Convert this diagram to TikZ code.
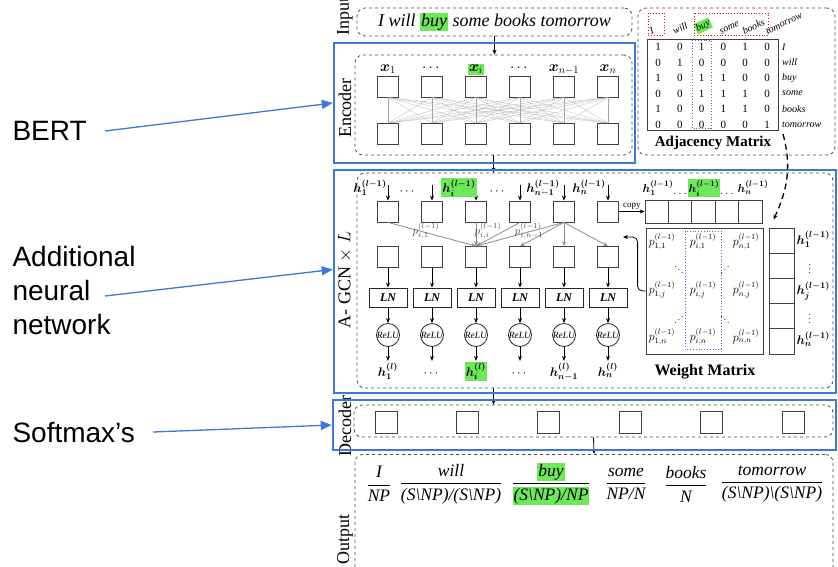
\RequirePackage{fix-cm}
\documentclass[tikz,border=0pt]{standalone}
\usepackage{amsmath}
\usepackage{bm}
\usepackage{fontspec}
\setmainfont{Liberation Serif}
\newfontfamily\notefont{Liberation Sans}
\usepackage{graphicx}
\usetikzlibrary{positioning}
\usetikzlibrary{arrows,arrows.meta,shapes}
\usetikzlibrary{calc}
\definecolor{partblue}{RGB}{60,120,216}
\definecolor{hlgreen}{RGB}{108,232,88}
\definecolor{dotblue}{RGB}{70,110,200}
\newcommand{\fsz}[1]{\fontsize{#1}{#1}\selectfont}
\newcommand{\hlg}[1]{{\setlength{\fboxsep}{1pt}\colorbox{hlgreen}{#1}}}
\newcommand{\ccg}[2]{$\dfrac{\text{\itshape #1}}{\text{\itshape #2}}$}
\tikzstyle{cell}=[rectangle,draw=black!75,thick,minimum size=21pt,inner sep=0pt]
\tikzstyle{vcell}=[rectangle,draw=black!75,thick,minimum width=23.4pt,minimum height=23pt,inner sep=0pt]
\tikzstyle{hcell}=[rectangle,draw=black!75,thick,minimum width=25pt,minimum height=25.2pt,inner sep=0pt]
\tikzstyle{lnbox}=[rectangle,draw=black!85,thick,minimum width=38pt,minimum height=19pt,inner sep=0pt,font=\fsz{12}\bfseries\itshape]
\tikzstyle{relu}=[circle,draw=black!85,thick,minimum size=23pt,inner sep=0pt,font=\fsz{9.5}\itshape]
\tikzstyle{group}=[draw=black!70,dashed,thick,rounded corners=8pt]
\tikzstyle{part}=[draw=partblue,line width=2.5pt]
\tikzstyle{link}=[draw,thick,-{Stealth[length=5pt,width=4pt]}]
\tikzstyle{pedge}=[draw,black!45,thick,-{Stealth[length=5pt,width=4pt]}]
\tikzstyle{pweight}=[font=\fsz{11},text=black!70,inner sep=1pt]
\tikzstyle{entry}=[font=\fsz{11},inner sep=1pt]
\tikzstyle{pentry}=[font=\fsz{12},inner sep=1pt]
\tikzstyle{hlabel}=[font=\fsz{12.5},inner sep=1pt,text height=10pt,text depth=3pt]
\tikzstyle{sidelabel}=[rotate=90,font=\fsz{18}]
\tikzstyle{callout}=[draw=partblue,line width=1.3pt,-{Triangle[length=11pt,width=9pt]}]

\begin{document}
\begin{tikzpicture}[x=1pt,y=-1pt]
    \useasboundingbox (0,0) rectangle (838,566);

    % Input sentence and side titles
    \node[group, minimum width=275pt, minimum height=28pt, font=\fsz{18}\itshape] (input) at (494.5,22) {I will \hlg{buy} some books tomorrow};
    \foreach \pos/\txt in {{(345,16)/Input}, {(345,108)/Encoder}, {(345,280)/A- GCN $\times$ $L$}, {(345,426)/Decoder}, {(345,539)/Output}}
        \node[sidelabel] at \pos {\txt};

    % Encoder: two rows of cells, fully connected
    \node[group, minimum width=277pt, minimum height=100pt] (encbox) at (493.5,105) {};
    \foreach \i in {1,...,6} {
        \node[cell] (etop\i) at ({388+44*(\i-1)},86.5) {};
        \node[cell] (ebot\i) at ({388+44*(\i-1)},134) {};
    }
    \foreach \a in {1,...,6}
        \foreach \b in {1,...,6}
            \draw[black!35, very thin] (etop\a.south) -- (ebot\b.north);
    \foreach \i/\txt in {1/$\bm{x}_1$, 2/$\cdots$, 3/\hlg{$\bm{x}_i$}, 4/$\cdots$, 5/$\bm{x}_{n-1}$, 6/$\bm{x}_n$}
        \node[hlabel, font=\fsz{15}, above=0pt of etop\i] {\txt};

    % Adjacency matrix
    \node[group, minimum width=197pt, minimum height=147pt] (adjbox) at (736.5,81.5) {};
    \node[draw=black!75, thick, minimum width=131pt, minimum height=91pt] (adjmat) at (712.5,84.5) {};
    \foreach \vals [count=\r from 0] in {{1,0,1,0,1,0},{0,1,0,0,0,0},{1,0,1,1,0,0},{0,0,1,1,1,0},{1,0,0,1,1,0},{0,0,0,0,0,1}}
        \foreach \v [count=\c from 0] in \vals
            \node[entry] at ({658+21.8*\c},{47+15.5*\r}) {\v};
    \foreach \word [count=\r from 0] in {I,will,buy,some,books,tomorrow}
        \node[anchor=west, font=\fsz{10}\itshape, inner sep=1pt] at (781,{47+15.5*\r}) {\word};
    \foreach \word [count=\c from 0] in {I,will,\hlg{buy},some,books,tomorrow}
        \node[rotate=25, anchor=south west, font=\fsz{10}\itshape, inner sep=1pt] at ({651+23.2*\c},36) {\word};
    \draw[red, dotted, thick] (648,13) rectangle (664,35);
    \draw[red, dotted, thick] (694,13) rectangle (768,35);
    \draw[dotblue, dotted, thick] (692,40) rectangle (711,128);
    \node[font=\fsz{15}\bfseries] (adjtitle) at (713,143) {Adjacency Matrix};
    \coordinate (adjtail) at (783,134);

    % A-GCN layer
    \node[group, minimum width=476pt, minimum height=215pt] (gcnbox) at (595,280.5) {};
    \foreach \i in {1,...,6} {
        \node[cell] (gtop\i) at ({388+44*(\i-1)},211.5) {};
        \node[cell] (gmid\i) at ({388+44*(\i-1)},257) {};
        \node[lnbox] (ln\i) at ({388+44*(\i-1)},297.5) {LN};
        \node[relu] (relu\i) at ({388+44*(\i-1)},335) {ReLU};
        \coordinate (gin\i) at ([yshift=16pt]gtop\i.north);
        \coordinate (hend\i) at ([yshift=-14pt]relu\i.south);
        \draw[link] (gin\i) -- (gtop\i);
        \draw[link] (gmid\i) -- (ln\i);
        \draw[link] (ln\i) -- (relu\i);
        \draw[link] (relu\i) -- (hend\i);
    }
    \foreach \pos/\txt in {{(370,189)/$\bm{h_1^{(l-1)}}$}, {(408,191)/$\cdots$}, {(459,189)/\hlg{$\bm{h_i^{(l-1)}}$}}, {(498,191)/$\cdots$}, {(543,189)/$\bm{h_{n-1}^{(l-1)}}$}, {(589,189)/$\bm{h_n^{(l-1)}}$}}
        \node[hlabel] at \pos {\txt};
    \foreach \i/\txt in {1/$\bm{h_1^{(l)}}$, 2/$\cdots$, 3/\hlg{$\bm{h_i^{(l)}}$}, 4/$\cdots$, 5/$\bm{h_{n-1}^{(l)}}$, 6/$\bm{h_n^{(l)}}$}
        \node[hlabel, below=4pt of hend\i] {\txt};

    % weighted edges into node i
    \foreach \source/\dest in {gtop1/gmid3, gtop3/gmid3, gtop4/gmid3, gtop5/gmid3, gtop5/gmid4, gtop5/gmid5, gtop5/gmid6}
        \path[pedge] (\source.south) -- (\dest.north);
    \foreach \pos/\txt in {{(426,231)/$p_{i,1}^{(l-1)}$}, {(488,231)/$p_{i,i}^{(l-1)}$}, {(529,231)/$p_{i,n-1}^{(l-1)}$}}
        \node[pweight] at \pos {\txt};

    % copy of the previous layer
    \foreach \i in {1,...,5}
        \node[vcell] (copy\i) at ({656.7+23.4*(\i-1)},211.5) {};
    \draw[link] (gtop6) -- node[above, font=\fsz{9}, inner sep=2pt] {copy} (copy1);
    \foreach \pos/\txt in {{(658,189)/$\bm{h_1^{(l-1)}}$}, {(681,191)/$\dots$}, {(704,189)/\hlg{$\bm{h_i^{(l-1)}}$}}, {(728,191)/$\dots$}, {(753,189)/$\bm{h_n^{(l-1)}}$}}
        \node[hlabel, font=\fsz{11.5}] at \pos {\txt};

    % Weight matrix
    \node[draw=black!75, thick, minimum width=117pt, minimum height=126pt] (wmat) at (704.5,291) {};
    \draw[dotblue, dotted, thick] (685,231) rectangle (721,349);
    \foreach \pos/\txt in {{(662,242)/$p_{1,1}^{(l-1)}$}, {(703,242)/$p_{i,1}^{(l-1)}$}, {(746,242)/$p_{n,1}^{(l-1)}$},
                           {(662,290)/$p_{1,j}^{(l-1)}$}, {(703,290)/$p_{i,j}^{(l-1)}$}, {(746,290)/$p_{n,j}^{(l-1)}$},
                           {(662,337)/$p_{1,n}^{(l-1)}$}, {(703,337)/$p_{i,n}^{(l-1)}$}, {(746,337)/$p_{n,n}^{(l-1)}$}}
        \node[pentry] at \pos {\txt};
    \foreach \pos/\txt in {{(679,267)/$\ddots$}, {(725,267)/\reflectbox{$\ddots$}}, {(679,317)/\reflectbox{$\ddots$}}, {(725,317)/$\ddots$}}
        \node[entry, font=\fsz{9}] at \pos {\txt};
    \coordinate (wback) at (623,237);
    \draw[link, rounded corners=5pt] (wmat.west) -- ++(-8,0) |- (wback);
    \node[font=\fsz{16}\bfseries] (wtitle) at (705,372) {Weight Matrix};

    % hidden states column
    \foreach \i in {1,...,5}
        \node[hcell] (hv\i) at (781.5,{240.6+25.2*(\i-1)}) {};
    \foreach \i/\txt in {1/$\bm{h_1^{(l-1)}}$, 3/$\bm{h_j^{(l-1)}}$, 5/$\bm{h_n^{(l-1)}}$}
        \node[hlabel, right=1pt of hv\i] {\txt};
    \foreach \i in {2,4}
        \node[font=\fsz{9}, inner sep=0pt, right=14pt of hv\i] {$\vdots$};
    \draw[link, dashed, line width=1.3pt, dash pattern=on 6pt off 4pt] (adjtail) to[out=-75,in=65] ([xshift=-8pt,yshift=8pt]hv1.north);

    % Decoder
    \node[group, minimum width=479pt, minimum height=32pt] (decbox) at (593.5,421) {};
    \foreach \i in {1,...,6}
        \node[cell, minimum size=22pt] (dec\i) at ({386+81.4*(\i-1)},422) {};

    % Output supertags
    \node[group, minimum width=478pt, minimum height=170pt, anchor=north] (outbox) at (594,454) {};
    \foreach \pos/\num/\den in {{(379,484)/I/NP}, {(451,484)/will/{(S\textbackslash NP)/(S\textbackslash NP)}},
                                {(551,484)/\hlg{buy}/\hlg{(S\textbackslash NP)/NP}}, {(626,484)/some/{NP/N}},
                                {(686,484)/books/N}, {(772,484)/tomorrow/{(S\textbackslash NP)\textbackslash(S\textbackslash NP)}}}
        \node[font=\fsz{17.5}, inner sep=0pt] at \pos {\ccg{\num}{\den}};

    % flow between stages
    \draw[link] (input.south) -- (input.south |- encbox.north);
    \draw[link] (encbox.south) -- (encbox.south |- gcnbox.north);
    \draw[link] (encbox.south |- gcnbox.south) -- (encbox.south |- decbox.north);
    \draw[link] (decbox.south) -- (outbox.north);

    % Blue parts and their callouts
    \node[part, minimum width=301pt, minimum height=120pt] (bertpart) at (484.5,103) {};
    \node[part, minimum width=502pt, minimum height=223pt] (gcnpart) at (585,281.5) {};
    \node[part, minimum width=503pt, minimum height=50pt] (decpart) at (584.5,425) {};
    \node[anchor=west, font=\notefont\fsz{28}] (bertlbl) at (9,131) {BERT};
    \node[anchor=west, align=left, font=\notefont\fontsize{28}{34}\selectfont] (gcnlbl) at (9,290) {Additional\\neural\\network};
    \node[anchor=west, font=\notefont\fsz{28}] (softlbl) at (9,432) {Softmax’s};
    \coordinate (bertfrom) at (105,131);
    \coordinate (gcnfrom) at (105,296);
    \coordinate (softfrom) at (153,432);
    \draw[callout] (bertfrom) -- (bertpart.west);
    \draw[callout] (gcnfrom) -- ([yshift=12pt]gcnpart.west);
    \draw[callout] (softfrom) -- (decpart.west);
\end{tikzpicture}
\end{document}
